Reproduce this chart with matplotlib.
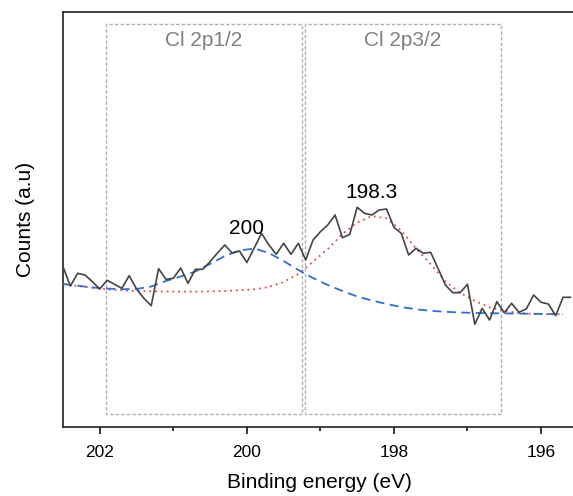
import matplotlib
matplotlib.use("Agg")
import matplotlib.pyplot as plt
from matplotlib.patches import Rectangle
import numpy as np

plt.rcParams['font.family'] = ['Liberation Sans', 'DejaVu Sans']

# Measured spectrum (binding energy in eV, counts in arbitrary units)
energy = [202.5, 202.4, 202.3, 202.2, 202.1, 202.0, 201.9, 201.8, 201.7, 201.6,
          201.5, 201.4, 201.3, 201.2, 201.1, 201.0, 200.9, 200.8, 200.7, 200.6,
          200.5, 200.4, 200.3, 200.2, 200.1, 200.0, 199.9, 199.8, 199.7, 199.6,
          199.5, 199.4, 199.3, 199.2, 199.1, 199.0, 198.9, 198.8, 198.7, 198.6,
          198.5, 198.4, 198.3, 198.2, 198.1, 198.0, 197.9, 197.8, 197.7, 197.6,
          197.5, 197.4, 197.3, 197.2, 197.1, 197.0, 196.9, 196.8, 196.7, 196.6,
          196.5, 196.4, 196.3, 196.2, 196.1, 196.0, 195.9, 195.8, 195.7, 195.6]
counts = [160.3, 141.0, 153.7, 152.0, 145.3, 138.0, 146.7, 142.7, 138.7, 151.3,
          138.0, 128.7, 121.3, 158.3, 147.7, 148.7, 159.0, 143.7, 157.7, 157.7,
          165.3, 174.0, 182.0, 174.0, 176.0, 164.5, 179.0, 193.7, 182.0, 172.7,
          183.7, 172.7, 183.7, 167.0, 187.0, 195.3, 202.0, 212.0, 189.3, 192.7,
          219.7, 213.7, 212.0, 217.0, 218.0, 199.7, 193.7, 172.0, 178.7, 173.7,
          174.7, 158.5, 142.0, 134.3, 134.3, 142.7, 102.7, 118.7, 107.0, 125.3,
          114.3, 123.7, 114.7, 118.0, 132.0, 124.7, 123.0, 111.3, 129.7, 129.7]

# Fitted components
fit_energy = [202.5, 202.3, 202.1, 201.9, 201.7, 201.5, 201.3, 201.1, 200.9, 200.7,
              200.5, 200.3, 200.1, 199.9, 199.7, 199.5, 199.3, 199.1, 198.9, 198.7,
              198.5, 198.3, 198.1, 197.9, 197.7, 197.5, 197.3, 197.1, 196.9, 196.7,
              196.5, 196.3, 196.1, 195.9, 195.7]
fit_2p12 = [143.0, 141.3, 139.5, 138.4, 137.8, 138.0, 140.5, 146.0, 150.5, 155.5,
            163.0, 171.0, 176.5, 178.5, 174.0, 166.0, 157.0, 149.0, 142.0, 136.0,
            130.5, 126.5, 123.0, 120.0, 117.7, 116.2, 115.2, 114.5, 114.1, 113.8,
            113.6, 113.4, 113.2, 113.0, 112.8]
fit_2p32 = [143.0, 141.0, 139.3, 137.7, 136.7, 136.0, 135.7, 135.5, 135.4, 135.4,
            135.6, 136.0, 136.8, 137.7, 140.0, 145.0, 153.0, 165.3, 178.0, 193.0,
            204.4, 211.0, 208.7, 196.5, 178.4, 162.8, 145.7, 134.2, 126.2, 119.7,
            116.3, 114.0, 113.0, 112.8, 112.7]

# Region boxes: (label, high-energy edge, low-energy edge)
regions = [("Cl 2p1/2", 201.92, 199.25), ("Cl 2p3/2", 199.21, 196.54)]
peak_labels = [("200", 200.0, 199.0), ("198.3", 198.3, 235.0)]

fig = plt.figure(figsize=(5.73, 4.96), dpi=100)
ax = fig.add_axes([63 / 573, 69 / 496, 513 / 573, 415.3 / 496])

ax.set_xlim(202.5, 195.524)
ax.set_ylim(0, 415.3)

box_bottom, box_top = 13, 403
for label, e_hi, e_lo in regions:
    rect = Rectangle((e_lo, box_bottom), e_hi - e_lo, box_top - box_bottom,
                     fill=False, edgecolor='#b0b0b0', linewidth=1.0,
                     linestyle=(0, (2.5, 1.5)), zorder=1)
    ax.add_patch(rect)
    ax.text((e_hi + e_lo) / 2, 387, label, ha='center', va='center',
            fontsize=15, color='#808080')

ax.plot(fit_energy, fit_2p32, color='#e8474a', linewidth=1.3,
        linestyle=(0, (1, 2.2)), zorder=2)
ax.plot(fit_energy, fit_2p12, color='#2f6fd1', linewidth=1.3,
        linestyle=(0, (5, 3)), zorder=3)
ax.plot(energy, counts, color='#444444', linewidth=1.2, zorder=4)

for txt, e, y in peak_labels:
    ax.text(e, y, txt, ha='center', va='center', fontsize=15, color='black')

ax.set_xticks([202, 200, 198, 196])
ax.set_xticks([201, 199, 197], minor=True)
ax.set_yticks([])
ax.tick_params(axis='x', which='major', direction='out', length=5, width=1.1,
               labelsize=12.5, pad=8)
ax.tick_params(axis='x', which='minor', direction='out', length=3, width=1.1)
for sp in ax.spines.values():
    sp.set_linewidth(1.2)
    sp.set_color('#222222')

ax.set_xlabel('Binding energy (eV)', fontsize=15, labelpad=9)
ax.set_ylabel('Counts (a.u)', fontsize=15, labelpad=20)

fig.savefig('out.png', dpi=100)
